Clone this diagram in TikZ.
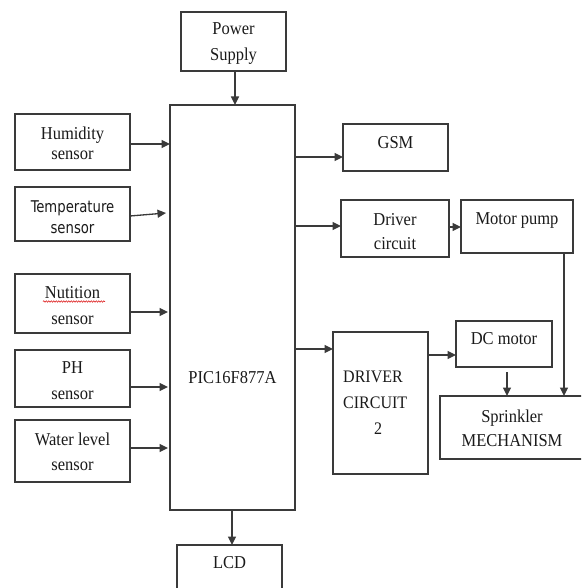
\documentclass[tikz,border=0pt]{standalone}
\usepackage{fontspec}
\setmainfont{Liberation Serif}
\newfontfamily\tempfont{DejaVu Sans Condensed}
\usetikzlibrary{arrows.meta,decorations.pathmorphing}
\definecolor{linec}{HTML}{3A3A3A}
\definecolor{txtc}{HTML}{1A1A1A}
\begin{document}
\begin{tikzpicture}[x=1pt,y=-1pt,
  bx/.style={draw=linec,line width=1.3pt,inner sep=0pt,outer sep=0pt,fill=white},
  lbl/.style={font=\fontsize{16.5}{#1}\selectfont,text=txtc,align=center,inner sep=0pt,transform shape,yscale=1.1},
  lbl/.default=20,
  arr/.style={draw=linec,line width=1.3pt,-{Triangle[length=8.5pt,width=8pt]}},
  ln/.style={draw=linec,line width=1.3pt}]
\useasboundingbox (0,0) rectangle (581,588);
\fill[white] (0,0) rectangle (581,588);
\begin{scope}
\clip (0,0) rectangle (581,588);
% boxes
\node[bx,minimum width=105pt,minimum height=59pt] (ps) at (233.5,41.5) {};
\node[bx,minimum width=125pt,minimum height=405pt] (pic) at (232.5,307.5) {};
\node[bx,minimum width=115pt,minimum height=56pt] (hum) at (72.5,142) {};
\node[bx,minimum width=115pt,minimum height=54pt] (temp) at (72.5,214) {};
\node[bx,minimum width=115pt,minimum height=59pt] (nut) at (72.5,303.5) {};
\node[bx,minimum width=115pt,minimum height=57pt] (ph) at (72.5,378.5) {};
\node[bx,minimum width=115pt,minimum height=62pt] (wat) at (72.5,451) {};
\node[bx,minimum width=105pt,minimum height=60pt] (lcd) at (229.5,575) {};
\node[bx,minimum width=105pt,minimum height=47pt] (gsm) at (395.5,147.5) {};
\node[bx,minimum width=108pt,minimum height=57pt] (drv) at (395,228.5) {};
\node[bx,minimum width=112pt,minimum height=53pt] (mp) at (517,226.5) {};
\node[bx,minimum width=95pt,minimum height=142pt] (drvb) at (380.5,403) {};
\node[bx,minimum width=96pt,minimum height=46pt] (dc) at (504,344) {};
\node[bx,minimum width=150pt,minimum height=63pt] (spr) at (515,427.5) {};
\end{scope}
% labels
\node[lbl=23] (tps) at (233.5,43.5) {Power\\Supply};
\node[lbl] (tpic) at (232.5,378) {PIC16F877A};
\node[lbl=18] (thum) at (72.5,143) {Humidity\\sensor};
\node[lbl=19,font=\tempfont\fontsize{14.7}{19}\selectfont] (ttemp) at (72.5,217) {Temperature\\sensor};
\node[lbl=23.5] (tnut) at (72.5,306) {Nutition\\sensor};
\node[lbl=23.5] (tph) at (72.5,381) {PH\\sensor};
\node[lbl=22.5] (twat) at (72.5,451.5) {Water level\\sensor};
\node[lbl] (tlcd) at (229.5,563) {LCD};
\node[lbl] (tgsm) at (395.5,143) {GSM};
\node[lbl=22.5] (tdrv) at (395,231.5) {Driver\\circuit};
\node[lbl] (tmp) at (517,220) {Motor pump};
\node[lbl=23.5,align=left,anchor=west,font=\fontsize{16}{23.5}\selectfont] (tdrvb) at (343,403) {DRIVER\\CIRCUIT\\\hspace*{31pt}2};
\node[lbl] (tdc) at (504,339) {DC motor};
\node[lbl=22] (tspr) at (512,428) {Sprinkler\\MECHANISM};
% spell-check underline
\coordinate (u1) at (43,301.5);
\coordinate (u2) at (105,301.5);
\draw[red!85!black,line width=0.5pt,decorate,decoration={snake,amplitude=0.7pt,segment length=2.5pt}] (u1) -- (u2);
% connectors
\draw[arr] (235,71) -- (235,105);
\draw[arr] (hum.east |- 0,144) -- (pic.west |- 0,144);
\draw[arr] (temp.east |- 0,216) -- (166,213);
\draw[arr] (nut.east |- 0,312) -- (168,312);
\draw[arr] (ph.east |- 0,387) -- (168,387);
\draw[arr] (wat.east |- 0,448) -- (168,448);
\draw[arr] (pic.east |- 0,157) -- (gsm.west |- 0,157);
\draw[arr] (pic.east |- 0,226) -- (drv.west |- 0,226);
\draw[arr] (pic.east |- 0,349) -- (drvb.west |- 0,349);
\draw[arr] (drv.east |- 0,227) -- (mp.west |- 0,227);
\draw[arr] (drvb.east |- 0,355) -- (dc.west |- 0,355);
\draw[arr] (507,372) -- (spr.north -| 507,0);
\draw[arr] (mp.south -| 564,0) -- (spr.north -| 564,0);
\draw[arr] (pic.south -| 232,0) -- (lcd.north -| 232,0);
\end{tikzpicture}
\end{document}
